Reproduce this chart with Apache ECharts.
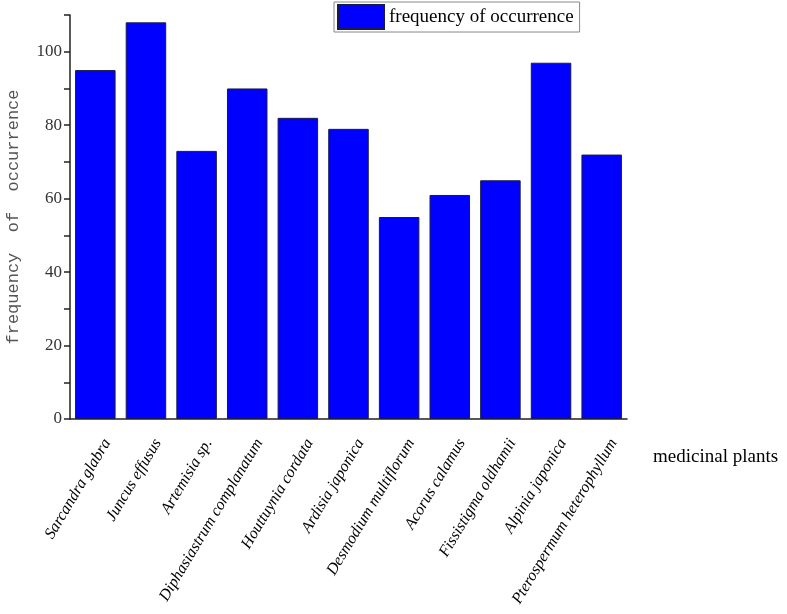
<!DOCTYPE html>
<html>
<head>
<meta charset="utf-8">
<script src="https://cdn.jsdelivr.net/npm/echarts@6/dist/echarts.min.js"></script>
<style>
  html, body { margin: 0; padding: 0; background: #fff; }
  #main { width: 787px; height: 614px; }
</style>
</head>
<body>
<div id="main"></div>
<script>
// plant names along the x axis
var plants = [
  'Sarcandra glabra', 'Juncus effusus', 'Artemisia sp.', 'Diphasiastrum complanatum',
  'Houttuynia cordata', 'Ardisia japonica', 'Desmodium multiflorum', 'Acorus calamus',
  'Fissistigma oldhamii', 'Alpinia japonica', 'Pterospermum heterophyllum'
];
var frequency = [95, 108, 73, 90, 82, 79, 55, 61, 65, 97, 72];
var yTicks = [0, 20, 40, 60, 80, 100];

var myChart = echarts.init(document.getElementById('main'));
myChart.setOption({
  animation: false,
  textStyle: { fontFamily: 'Liberation Serif' },
  grid: { left: 70, right: 160, top: 15, bottom: 195, containLabel: false, outerBoundsMode: 'none' },
  legend: {
    left: 334, top: 2,
    padding: [2, 6, 2, 3],
    itemWidth: 46, itemHeight: 24,
    itemGap: 6,
    borderColor: '#888', borderWidth: 1,
    textStyle: { fontFamily: 'Liberation Serif', fontSize: 19, color: '#000' },
    data: [{ name: 'frequency of occurrence', icon: 'rect' }]
  },
  xAxis: {
    type: 'category',
    data: plants,
    name: '\n\nmedicinal plants',
    nameLocation: 'end',
    nameGap: 26,
    nameTextStyle: { fontFamily: 'Liberation Serif', fontSize: 19, color: '#000', lineHeight: 38 },
    axisLine: { lineStyle: { color: '#222', width: 1.5 } },
    axisTick: { alignWithLabel: true, length: 6, lineStyle: { color: '#222', width: 1.5 } },
    axisLabel: {
      rotate: 59, interval: 0, margin: 14,
      verticalAlign: 'top', lineHeight: 28,
      fontFamily: 'Liberation Serif', fontStyle: 'italic', fontSize: 16, color: '#000'
    }
  },
  yAxis: {
    type: 'value',
    min: 0, max: 110, interval: 10,
    name: 'frequency  of  occurrence',
    nameLocation: 'middle',
    nameGap: 48,
    nameTextStyle: { fontFamily: 'Liberation Mono', fontSize: 17, color: '#555' },
    axisLine: { show: true, lineStyle: { color: '#222', width: 1.5 } },
    axisTick: { show: true, length: 6, lineStyle: { color: '#222', width: 1.5 } },
    splitLine: { show: false },
    axisLabel: {
      fontFamily: 'Liberation Serif', fontSize: 17, color: '#333', margin: 8,
      formatter: function (v) { return yTicks.indexOf(v) >= 0 ? String(v) : ''; }
    }
  },
  series: [{
    name: 'frequency of occurrence',
    type: 'bar',
    data: frequency,
    barCategoryGap: '20%',
    itemStyle: { color: '#0000ff', borderColor: '#1a1a4a', borderWidth: 1 }
  }]
});
</script>
</body>
</html>
